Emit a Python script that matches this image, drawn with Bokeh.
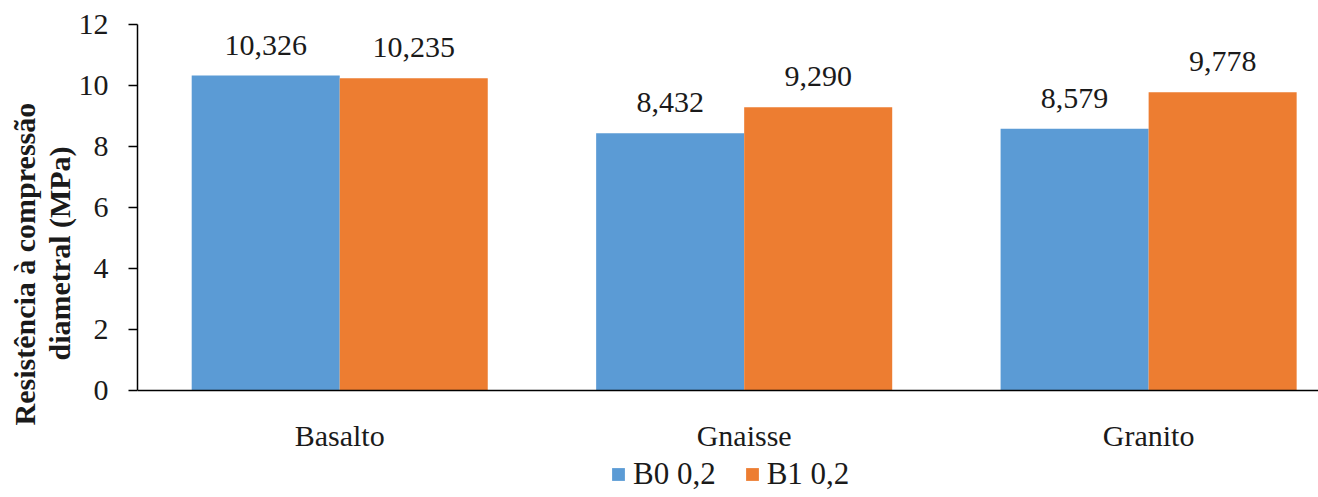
from bokeh.plotting import figure
from bokeh.models import (ColumnDataSource, Range1d, FixedTicker, Legend, LegendItem, Title,
                          LinearAxis)
from bokeh.embed import file_html
from bokeh.resources import INLINE
from bokeh.core.properties import value

categories = ["Basalto", "Gnaisse", "Granito"]
series_names = ["B0 0,2", "B1 0,2"]
b0_values = [10.326, 8.432, 8.579]
b1_values = [10.235, 9.290, 9.778]
y_ticks = [0, 2, 4, 6, 8, 10, 12]
y_label_lines = ["Resistência à compressão", "diametral (MPa)"]
colors = ["#5B9BD5", "#ED7D31"]

FONT = "Liberation Serif"
TXT = "#1a1a1a"

bar_w = 0.366
offsets = [-bar_w / 2, bar_w / 2]
centers = [i + 0.5 for i in range(len(categories))]

# frame spans the full height below the top border; the value axis covers 0..12
# and the space under 0 holds the category labels and the legend
p = figure(frame_width=1181, frame_height=473, output_backend="svg", toolbar_location=None,
           x_range=Range1d(0, 2.92), y_range=Range1d(-3.508, 12), x_axis_location=None)
p.min_border_left = 137
p.min_border_right = 0
p.min_border_top = 24
p.min_border_bottom = 0
p.outline_line_color = None
p.xgrid.grid_line_color = None
p.ygrid.grid_line_color = None

renderers = []
for vals, off, col in zip([b0_values, b1_values], offsets, colors):
    src = ColumnDataSource(dict(
        x=[c + off for c in centers], top=vals,
        lab=[f"{v:.3f}".replace(".", ",") for v in vals]))
    r = p.vbar(x="x", top="top", width=bar_w, source=src, fill_color=col, line_color=None)
    renderers.append(r)
    p.text(x="x", y="top", text="lab", source=src, text_font=value(FONT),
           text_font_size="30px", text_color=TXT, text_align="center",
           text_baseline="bottom", y_offset=-21)

# category axis fixed at value 0
xaxis = LinearAxis(fixed_location=0, ticker=FixedTicker(ticks=centers))
xaxis.major_label_overrides = {c: name for c, name in zip(centers, categories)}
xaxis.major_tick_line_color = None
xaxis.minor_tick_line_color = None
xaxis.major_tick_out = 0
xaxis.major_tick_in = 0
xaxis.axis_line_color = "#000000"
xaxis.axis_line_width = 1.5
xaxis.major_label_text_font = FONT
xaxis.major_label_text_font_size = "30px"
xaxis.major_label_text_color = TXT
xaxis.major_label_standoff = 28
p.add_layout(xaxis, "below")

p.yaxis.ticker = FixedTicker(ticks=y_ticks)
p.yaxis.bounds = (0, 12)
p.yaxis.minor_tick_line_color = None
p.yaxis.major_tick_in = 0
p.yaxis.major_tick_out = 9
p.yaxis.major_tick_line_color = "#000000"
p.yaxis.axis_line_color = "#000000"
p.yaxis.axis_line_width = 1.5
p.yaxis.major_tick_line_width = 1.5
p.yaxis.major_label_text_font = FONT
p.yaxis.major_label_text_font_size = "30px"
p.yaxis.major_label_text_color = TXT
p.yaxis.major_label_standoff = 20

# two-line y-axis title
for txt, off in zip(reversed(y_label_lines), [137, 72]):
    t = Title(text=txt, align="left", offset=off, text_font=FONT, text_font_style="bold",
              text_font_size="30px", text_color=TXT, standoff=0)
    p.add_layout(t, "left")

legend = Legend(items=[LegendItem(label=n, renderers=[r]) for n, r in zip(series_names, renderers)],
                orientation="horizontal", location=(473, 5))
legend.label_text_font = FONT
legend.label_text_font_size = "31px"
legend.label_text_color = TXT
legend.label_height = 16
legend.glyph_width = 16
legend.glyph_height = 16
legend.label_standoff = 7
legend.spacing = 28
legend.padding = 0
legend.margin = 0
legend.border_line_color = None
legend.background_fill_alpha = 0
p.add_layout(legend)

open("out.html", "w").write(file_html(p, INLINE))
